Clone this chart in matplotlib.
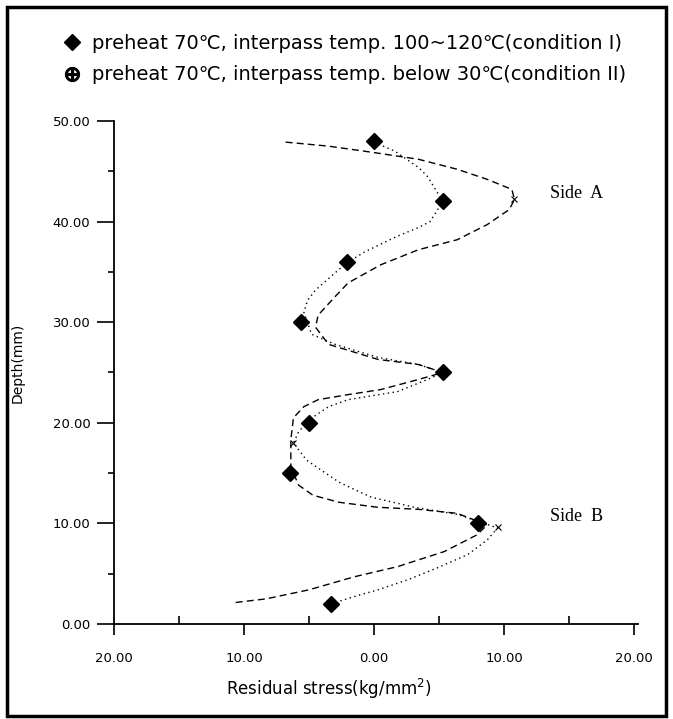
import matplotlib
matplotlib.use("Agg")
from matplotlib import pyplot as plt
from matplotlib.lines import Line2D
from matplotlib.patches import Rectangle

# measured points, condition I (diamonds)
depth_c1 = [48, 42, 36, 30, 25, 20, 15, 10, 2]
stress_c1 = [0.0, 5.3, -2.1, -5.6, 5.3, -5.0, -6.5, 8.0, -3.3]

# measured points, condition II (only the visible ones)
depth_c2 = [42.2, 18.0, 9.6]
stress_c2 = [10.8, -6.2, 9.5]

# dashed curve
dash_depth = [47.9, 47.5, 46.9, 46.2, 45.2, 44.2, 43.2, 42.2, 41.2, 39.7, 38.2, 37.2,
              35.7, 33.9, 32.4, 30.7, 29.5, 27.8, 26.3, 25.8, 25.0, 24.3, 23.3, 22.8,
              22.3, 21.6, 20.5, 18.3, 15.6, 13.8, 12.8, 12.1, 11.6, 11.4, 11.0, 10.2,
              9.85, 8.85, 7.2, 5.7, 4.7, 3.4, 2.5, 2.1]
dash_stress = [-6.8, -3.5, -0.2, 3.4, 6.4, 8.7, 10.6, 10.8, 10.4, 8.7, 6.4, 3.4,
               0.5, -2.0, -3.1, -4.3, -4.5, -3.5, 0.3, 3.4, 5.3, 3.4, 0.5, -2.0,
               -4.3, -5.4, -6.2, -6.4, -6.4, -5.8, -4.7, -2.7, 0.3, 3.4, 6.4, 8.0,
               8.7, 7.9, 5.4, 1.8, -1.5, -5.0, -8.3, -10.9]

# dotted curve
dot_depth = [47.9, 47.0, 45.4, 44.5, 42.0, 40.0, 39.4, 38.5, 37.0, 35.9, 34.9, 33.2,
             32.2, 31.0, 28.8, 27.8, 26.5, 25.8, 25.0, 24.3, 23.1, 22.3, 21.6, 20.3,
             19.1, 18.0, 16.3, 15.5, 14.1, 13.3, 12.6, 12.0, 11.6, 10.9, 9.55, 8.35,
             6.9, 5.6, 4.4, 3.4, 2.7, 2.0]
dot_stress = [0.0, 1.6, 3.4, 4.1, 5.3, 4.3, 3.4, 1.7, -0.7, -2.1, -3.0, -4.5,
              -5.1, -5.4, -4.8, -3.0, 0.3, 3.4, 5.3, 4.1, 1.8, -2.0, -3.5, -5.0,
              -5.8, -6.2, -5.2, -4.3, -2.7, -1.4, -0.2, 1.8, 3.1, 6.4, 9.5, 8.7,
              7.2, 4.9, 2.6, 0.3, -1.6, -3.3]

x_ticks = [-20, -10, 0, 10, 20]
x_labels = ["20.00", "10.00", "0.00", "10.00", "20.00"]
y_ticks = [0, 10, 20, 30, 40, 50]
y_labels = ["0.00", "10.00", "20.00", "30.00", "40.00", "50.00"]

W, H = 673, 719
fig = plt.figure(figsize=(W / 100, H / 100), dpi=100)
ax = fig.add_axes([114 / W, (H - 624) / H, 524 / W, 503 / H])

ax.plot(dash_stress, dash_depth, color="black", lw=1.0, ls=(0, (5, 3)))
ax.plot(dot_stress, dot_depth, color="black", lw=1.0, ls=(0, (1, 2.5)))
ax.plot(stress_c1, depth_c1, ls="none", marker="D", ms=8, color="black")
ax.plot(stress_c2, depth_c2, ls="none", marker="x", ms=5, mew=0.8, color="black")

ax.set_xlim(-20, 20.3)
ax.set_ylim(0, 50)
ax.spines["top"].set_visible(False)
ax.spines["right"].set_visible(False)
for s in ["left", "bottom"]:
    ax.spines[s].set_linewidth(1.3)

ax.set_xticks(x_ticks)
ax.set_xticklabels(x_labels, fontsize=9.5)
ax.set_yticks(y_ticks)
ax.set_yticklabels(y_labels, fontsize=9.5)
ax.set_xticks([-15, -5, 5, 15], minor=True)
ax.set_yticks([5, 15, 25, 35, 45], minor=True)
ax.tick_params(axis="x", which="major", direction="out", length=8, width=1.2, pad=12)
ax.tick_params(axis="x", which="minor", direction="in", length=6, width=1.2)
ax.tick_params(axis="y", which="major", direction="out", length=12, width=1.2, pad=5)
ax.tick_params(axis="y", which="minor", direction="out", length=4, width=1.2)

ax.set_xlabel("Residual stress(kg/mm$^2$)", fontsize=12)
ax.xaxis.set_label_coords(0.41, -0.105)
ax.set_ylabel("Depth(mm)", fontsize=10)
ax.yaxis.set_label_coords(-0.17, 0.52)

ax.text(13.5, 42.8, "Side  A", fontsize=13, family="Liberation Serif", va="center")
ax.text(13.5, 10.7, "Side  B", fontsize=13, family="Liberation Serif", va="center")

handles = [
    Line2D([], [], ls="none", marker="D", ms=8, color="black"),
    Line2D([], [], ls="none", marker="$\\oplus$", ms=10, color="black"),
]
labels = [
    "preheat 70\u2103, interpass temp. 100~120\u2103(condition I)",
    "preheat 70\u2103, interpass temp. below 30\u2103(condition II)",
]
fig.legend(handles, labels, loc="upper left", bbox_to_anchor=(54 / W, 1 - 26 / H),
           frameon=False, fontsize=14, handlelength=1.0, handletextpad=0.55,
           labelspacing=0.65, borderaxespad=0)

fig.patches.append(Rectangle((7 / W, 3 / H), 659 / W, 709 / H, transform=fig.transFigure,
                             fill=False, lw=2.5, edgecolor="black"))

fig.savefig("out.png", dpi=100)
